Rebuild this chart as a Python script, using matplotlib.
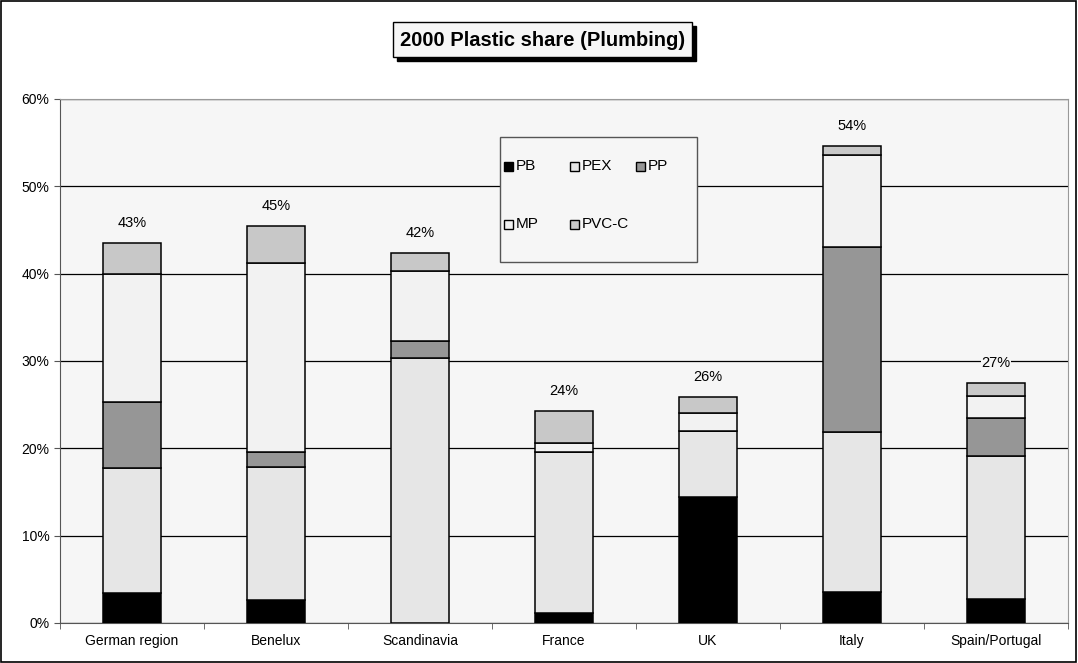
import numpy as np
import matplotlib.pyplot as plt
from matplotlib.patches import Rectangle

plt.rcParams['font.family'] = ['Liberation Sans', 'DejaVu Sans']

regions = ["German region", "Benelux", "Scandinavia", "France", "UK", "Italy", "Spain/Portugal"]
pb = [3.4, 2.6, 0.0, 1.1, 14.4, 3.5, 2.8]
pex = [14.3, 15.3, 30.3, 18.5, 7.6, 18.4, 16.3]
pp = [7.6, 1.7, 2.0, 0.0, 0.0, 21.1, 4.4]
mp = [14.7, 21.6, 8.0, 1.0, 2.0, 10.6, 2.5]
pvcc = [3.5, 4.3, 2.1, 3.7, 1.9, 1.0, 1.5]
totals = ["43%", "45%", "42%", "24%", "26%", "54%", "27%"]

series = [("PB", pb, "#000000"), ("PEX", pex, "#e6e6e6"), ("PP", pp, "#969696"),
          ("MP", mp, "#f2f2f2"), ("PVC-C", pvcc, "#c8c8c8")]

W, H = 1078, 663
fig = plt.figure(figsize=(W / 100, H / 100), dpi=100)
ax = fig.add_axes([60 / W, 1 - 623 / H, 1008 / W, 524 / H])
ax.set_facecolor("#f6f6f6")


def px(x, y):
    # pixel position -> figure fraction
    return x / W, 1 - y / H


x = np.arange(len(regions))
bottom = np.zeros(len(regions))
for name, vals, col in series:
    ax.bar(x, vals, 0.4, bottom=bottom, color=col, edgecolor="black", linewidth=1.1, zorder=3)
    bottom += np.array(vals)

for xi, tot, lab in zip(x, bottom, totals):
    ax.text(xi, tot + 1.5, lab, ha="center", va="bottom", fontsize=10.5, zorder=4,
            bbox=dict(facecolor="#f6f6f6", edgecolor="none", pad=0.5))

ax.set_xlim(-0.5, len(regions) - 0.5)
ax.set_ylim(0, 60)
ax.set_yticks(np.arange(0, 61, 10))
ax.set_yticklabels([f"{v}%" for v in range(0, 61, 10)], fontsize=10)
ax.yaxis.grid(True, color="black", linewidth=0.9, zorder=1)
ax.set_axisbelow(True)
ax.set_xticks(x)
ax.set_xticklabels(regions, fontsize=10)
ax.set_xticks(np.arange(-0.5, len(regions)), minor=True)
ax.tick_params(axis="x", which="major", length=0, pad=8)
ax.tick_params(axis="x", which="minor", length=4, color="#555555")
ax.tick_params(axis="y", length=4, color="#555555")
for side in ["top", "right"]:
    ax.spines[side].set_color("#999999")
for side in ["left", "bottom"]:
    ax.spines[side].set_color("#555555")

# legend drawn by hand, laid out in rows like the original
x0, y0 = px(500, 262)
x1, y1 = px(697, 137)
fig.patches.append(Rectangle((x0, y0), x1 - x0, y1 - y0, transform=fig.transFigure,
                             facecolor="#f6f6f6", edgecolor="#555555", linewidth=1.0, zorder=5))
cols = {n: c for n, v, c in series}
legend_pos = [("PB", 504, 166), ("PEX", 570, 166), ("PP", 636, 166),
              ("MP", 504, 224), ("PVC-C", 570, 224)]
for name, lx, ly in legend_pos:
    mx, my = px(lx, ly + 4.5)
    fig.patches.append(Rectangle((mx, my), 9 / W, 9 / H, transform=fig.transFigure,
                                 facecolor=cols[name], edgecolor="black", linewidth=1.0, zorder=6))
    tx, ty = px(lx + 12, ly)
    fig.text(tx, ty, name, ha="left", va="center", fontsize=11, zorder=6)

# title box with shadow
bx0, by0 = px(393, 57)
bx1, by1 = px(692, 22)
sx, sy = 4 / W, -4 / H
fig.patches.append(Rectangle((bx0 + sx, by0 + sy), bx1 - bx0, by1 - by0, transform=fig.transFigure,
                             facecolor="black", edgecolor="black"))
fig.patches.append(Rectangle((bx0, by0), bx1 - bx0, by1 - by0, transform=fig.transFigure,
                             facecolor="#f6f6f6", edgecolor="black", linewidth=1.0))
tx, ty = px(543, 40)
fig.text(tx, ty, "2000 Plastic share (Plumbing)", ha="center", va="center",
         fontsize=14.5, fontweight="bold")

fig.patches.append(Rectangle((0.0005, 0.001), 0.998, 0.997, transform=fig.transFigure,
                             fill=False, edgecolor="black", linewidth=1.2))

fig.savefig("out.png", dpi=100)
